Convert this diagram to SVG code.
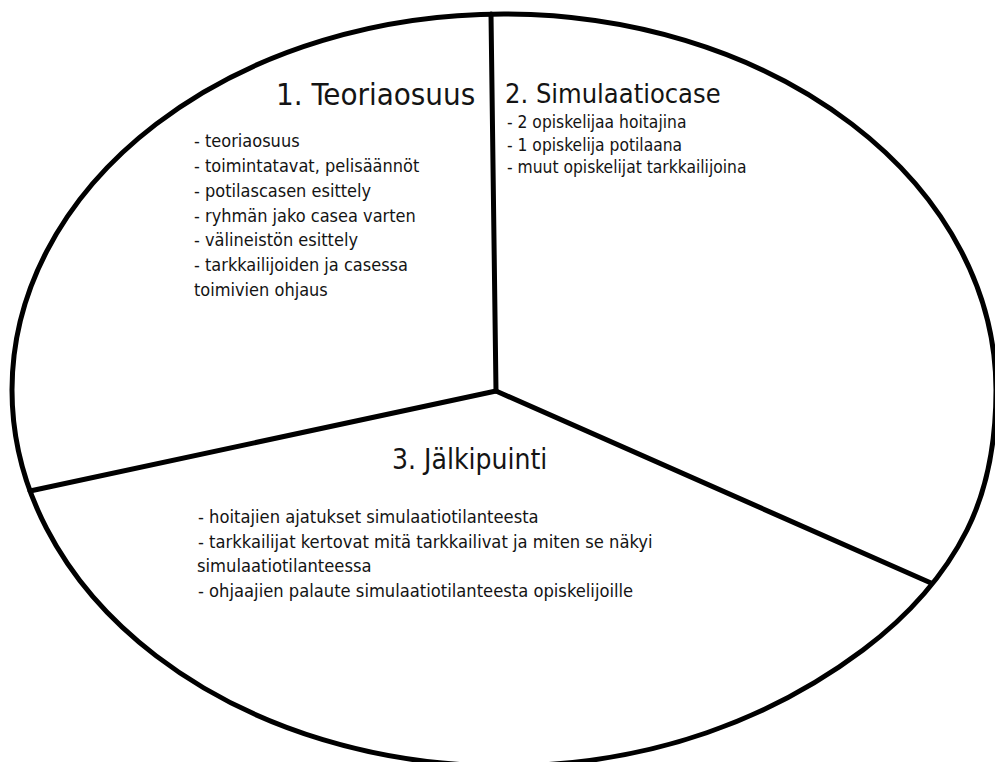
<svg xmlns="http://www.w3.org/2000/svg" width="995" height="762" viewBox="0 0 995 762">
<style>
.shape{fill:none;stroke:#000;stroke-width:5;stroke-linejoin:round;stroke-linecap:round}
text{font-family:"DejaVu Sans Condensed","DejaVu Sans",sans-serif;font-stretch:condensed;fill:#141414}
.title{font-size:31px}
.t2{font-size:27px}
.t3{font-size:28px}
.body{font-size:18px}
.body3{font-size:18.2px}
.body2{font-size:17.3px}
</style>
<rect width="995" height="762" fill="#fff"/>
<g id="circle">
<path class="shape" d="M996,390 C996,437 988,488 967,530 C943.2,577.3 905.4,618.2 863,650 C775,716 654,766 504,766 A492,376 0 0 1 12,390 A492,376 0 0 1 504,14 A492,376 0 0 1 996,390 Z"/>
</g>
<g id="connectors">
<line class="shape" x1="491" y1="14" x2="496" y2="391"/>
<line class="shape" x1="496" y1="391" x2="30" y2="491"/>
<line class="shape" x1="496" y1="391" x2="931" y2="583"/>
</g>
<g id="section1">
<text class="title" x="276" y="105">1. Teoriaosuus</text>
<text class="body" x="194" y="147">- teoriaosuus</text>
<text class="body" x="194" y="172">- toimintatavat, pelisäännöt</text>
<text class="body" x="194" y="197">- potilascasen esittely</text>
<text class="body" x="194" y="222">- ryhmän jako casea varten</text>
<text class="body" x="194" y="246">- välineistön esittely</text>
<text class="body" x="194" y="271">- tarkkailijoiden ja casessa</text>
<text class="body" x="194" y="296">toimivien ohjaus</text>
</g>
<g id="section2">
<text class="t2" x="505" y="103">2. Simulaatiocase</text>
<text class="body2" x="507" y="128">- 2 opiskelijaa hoitajina</text>
<text class="body2" x="507" y="151">- 1 opiskelija potilaana</text>
<text class="body2" x="507" y="173">- muut opiskelijat tarkkailijoina</text>
</g>
<g id="section3">
<text class="t3" x="392" y="469">3. Jälkipuinti</text>
<text class="body3" x="198" y="523">- hoitajien ajatukset simulaatiotilanteesta</text>
<text class="body3" x="198" y="548">- tarkkailijat kertovat mitä tarkkailivat ja miten se näkyi</text>
<text class="body3" x="197" y="572">simulaatiotilanteessa</text>
<text class="body3" x="198" y="597">- ohjaajien palaute simulaatiotilanteesta opiskelijoille</text>
</g>
</svg>
